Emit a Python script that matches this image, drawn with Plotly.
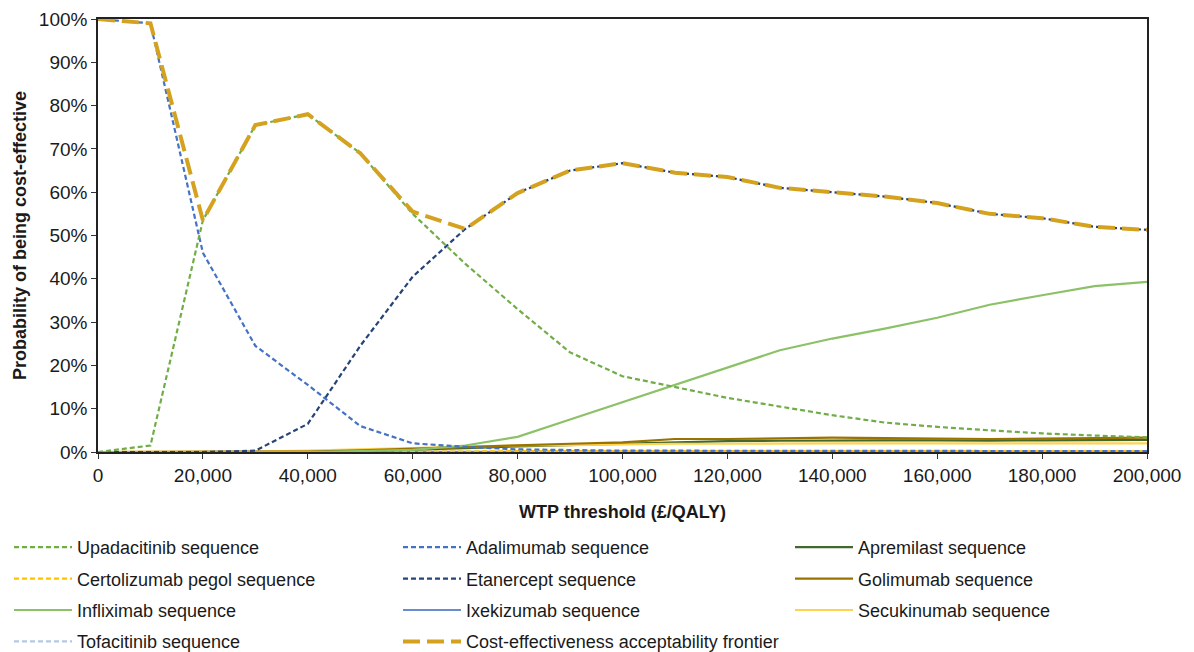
import plotly.graph_objects as go

# Willingness-to-pay thresholds (GBP per QALY)
wtp = [0, 10000, 20000, 30000, 40000, 50000, 60000, 70000, 80000, 90000, 100000,
       110000, 120000, 130000, 140000, 150000, 160000, 170000, 180000, 190000, 200000]

# Probability of being cost-effective (%) for each treatment sequence
upadacitinib = [0, 1.5, 53.5, 75.5, 78, 69, 55, 43.5, 33, 23, 17.5,
                15, 12.5, 10.5, 8.5, 6.8, 5.8, 5.0, 4.3, 3.8, 3.4]
adalimumab = [100, 99, 46, 24.5, 15.5, 6, 2, 1.2, 0.6, 0.4, 0.3,
              0.3, 0.3, 0.2, 0.2, 0.2, 0.2, 0.2, 0.2, 0.2, 0.2]
apremilast = [0, 0, 0, 0, 0, 0.2, 0.5, 0.9, 1.3, 1.6, 1.9,
              2.3, 2.5, 2.6, 2.7, 2.7, 2.7, 2.6, 2.7, 2.8, 2.8]
certolizumab = [0, 0, 0, 0, 0, 0, 0.1, 0.1, 0.2, 0.2, 0.2,
                0.2, 0.2, 0.2, 0.2, 0.2, 0.2, 0.2, 0.2, 0.2, 0.2]
etanercept = [0, 0, 0, 0.3, 6.5, 24.5, 40.5, 51.5, 59.8, 65, 66.7,
              64.5, 63.5, 61, 60, 59, 57.5, 55, 54, 52, 51.3]
golimumab = [0, 0, 0, 0, 0.1, 0.4, 0.8, 1.2, 1.6, 1.9, 2.2,
             3.0, 3.0, 3.1, 3.3, 3.2, 3.1, 3.0, 3.1, 3.2, 3.3]
infliximab = [0, 0, 0, 0, 0, 0.2, 0.5, 1.5, 3.5, 7.5, 11.5,
              15.5, 19.5, 23.5, 26.2, 28.5, 31, 34, 36.2, 38.3, 39.3]
ixekizumab = [0, 0, 0, 0, 0, 0, 0, 0, 0.1, 0.1, 0.1,
              0.1, 0.1, 0.1, 0.1, 0.1, 0.1, 0.1, 0.1, 0.1, 0.1]
secukinumab = [0, 0, 0, 0.1, 0.3, 0.6, 1.0, 1.3, 1.5, 1.6, 1.8,
               1.9, 1.9, 2.0, 2.0, 2.0, 2.0, 1.9, 2.0, 2.0, 2.0]
tofacitinib = [0, 0, 0, 0, 0, 0, 0, 0, 0, 0, 0,
               0, 0, 0, 0, 0, 0, 0, 0, 0, 0]
frontier = [100, 99, 53.5, 75.5, 78, 69, 55.5, 51.5, 59.8, 65, 66.7,
            64.5, 63.5, 61, 60, 59, 57.5, 55, 54, 52, 51.3]

x_ticks = list(range(0, 200001, 20000))
y_ticks = list(range(0, 101, 10))
y_ticklabels = [f"{v}%" for v in y_ticks]

FONT = "Liberation Sans, Arial, sans-serif"
SHORT_DASH = "5px,3px"

# (name, values, colour, dash, width, legend column)
series = [
    ("Tofacitinib sequence", tofacitinib, "#B4C7E7", SHORT_DASH, 2.2, "legend"),
    ("Ixekizumab sequence", ixekizumab, "#698ED0", "solid", 2.2, "legend2"),
    ("Certolizumab pegol sequence", certolizumab, "#FFC000", SHORT_DASH, 2.2, "legend"),
    ("Apremilast sequence", apremilast, "#43682B", "solid", 2.2, "legend3"),
    ("Secukinumab sequence", secukinumab, "#FFD34D", "solid", 2.2, "legend3"),
    ("Golimumab sequence", golimumab, "#997300", "solid", 2.2, "legend3"),
    ("Infliximab sequence", infliximab, "#8CC168", "solid", 2.2, "legend"),
    ("Adalimumab sequence", adalimumab, "#4472C4", SHORT_DASH, 2.2, "legend2"),
    ("Etanercept sequence", etanercept, "#264478", SHORT_DASH, 2.2, "legend2"),
    ("Upadacitinib sequence", upadacitinib, "#70AD47", SHORT_DASH, 2.2, "legend"),
    ("Cost-effectiveness acceptability frontier", frontier, "#D4A21F", "17px,7px", 4, "legend2"),
]

# legend rank keeps each column in reading order
rank = {
    "Upadacitinib sequence": 1, "Certolizumab pegol sequence": 2,
    "Infliximab sequence": 3, "Tofacitinib sequence": 4,
    "Adalimumab sequence": 1, "Etanercept sequence": 2,
    "Ixekizumab sequence": 3, "Cost-effectiveness acceptability frontier": 4,
    "Apremilast sequence": 1, "Golimumab sequence": 2, "Secukinumab sequence": 3,
}

fig = go.Figure()
for name, vals, color, dash, width, leg in series:
    fig.add_trace(go.Scatter(
        x=wtp, y=vals, mode="lines", name=name,
        line=dict(color=color, dash=dash, width=width),
        legend=leg, legendgroup=name, legendrank=rank[name],
    ))

plot_l, plot_r, plot_t, plot_b = 98, 1147, 19, 452
W, H = 1194, 652


def px_x(p):
    return (p - plot_l) / (plot_r - plot_l)


def px_y(p):
    return (plot_b - p) / (plot_b - plot_t)


legend_common = dict(
    orientation="v", xanchor="left", yanchor="top",
    font=dict(family=FONT, size=18, color="#1a1a1a"),
    bgcolor="rgba(0,0,0,0)", tracegroupgap=5, itemwidth=58,
    traceorder="grouped",
)

fig.update_layout(
    width=W, height=H,
    margin=dict(l=plot_l, r=W - plot_r, t=plot_t, b=H - plot_b, autoexpand=False),
    paper_bgcolor="white", plot_bgcolor="white",
    font=dict(family=FONT, color="#1a1a1a"),
    legend=dict(x=px_x(9), y=px_y(529), **legend_common),
    legend2=dict(x=px_x(398), y=px_y(529), **legend_common),
    legend3=dict(x=px_x(790), y=px_y(529), **legend_common),
    xaxis=dict(
        range=[0, 200000], tickvals=x_ticks, automargin=False,
        tickformat=",", ticks="outside", ticklen=5, tickwidth=1, tickcolor="#333",
        showline=True, linecolor="#222", linewidth=1.5, mirror=True,
        showgrid=False, zeroline=False,
        tickfont=dict(family=FONT, size=19, color="#1a1a1a"),
        title=dict(text="<b>WTP threshold (£/QALY)</b>",
                   font=dict(family=FONT, size=18, color="#1a1a1a"), standoff=21),
    ),
    yaxis=dict(
        range=[0, 100], tickvals=y_ticks, ticktext=y_ticklabels, automargin=False,
        ticks="outside", ticklen=5, tickwidth=1, tickcolor="#333",
        showline=True, linecolor="#222", linewidth=1.5, mirror=True,
        showgrid=False, zeroline=False,
        tickfont=dict(family=FONT, size=19, color="#1a1a1a"),
        title=dict(text="<b>Probability of being cost-effective</b>",
                   font=dict(family=FONT, size=18, color="#1a1a1a"), standoff=8),
    ),
)

fig.write_html("out.html")
